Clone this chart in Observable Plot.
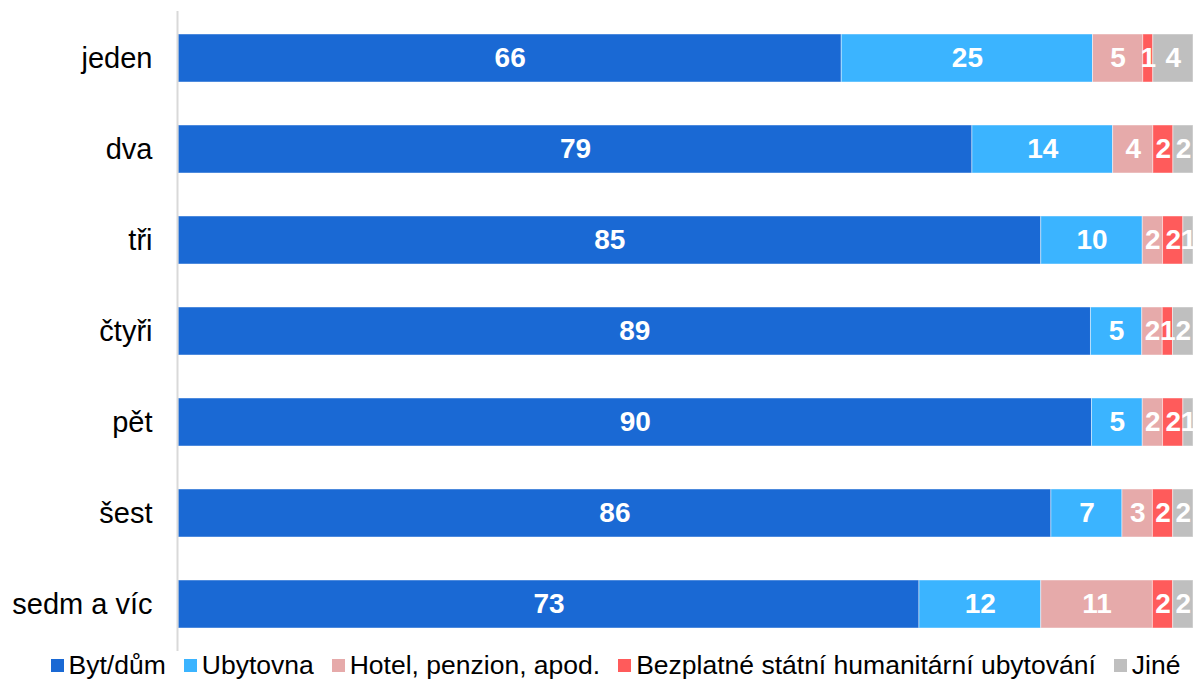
<!DOCTYPE html>
<html>
<head>
<meta charset="utf-8">
<script src="https://cdn.jsdelivr.net/npm/d3@7"></script>
<script src="https://cdn.jsdelivr.net/npm/@observablehq/plot@0.6"></script>
<style>
  html, body { margin: 0; padding: 0; background: #fff; }
  body { width: 1193px; height: 679px; overflow: hidden; font-family: "Liberation Sans", Arial, sans-serif; }
  #chart svg { display: block; }
  #legend { display: flex; justify-content: center; align-items: center; height: 27px; font-size: 26.5px; line-height: 27px; color: #000; padding-left: 38px; }
  .item { display: flex; align-items: center; margin: 0 9px; white-space: nowrap; }
  .sw { width: 13px; height: 13px; margin-right: 5px; display: inline-block; }
</style>
</head>
<body>
<div id="chart"></div>
<div id="legend"></div>
<script>
const categories = ["jeden", "dva", "tři", "čtyři", "pět", "šest", "sedm a víc"];
const series = ["Byt/dům", "Ubytovna", "Hotel, penzion, apod.", "Bezplatné státní humanitární ubytování", "Jiné"];
const colors = ["#1A69D4", "#3BB4FF", "#E6AAAA", "#FF5B5B", "#BFBFBF"];
const bytDum     = [66, 79, 85, 89, 90, 86, 73];
const ubytovna   = [25, 14, 10, 5, 5, 7, 12];
const hotel      = [5, 4, 2, 2, 2, 3, 11];
const bezplatne  = [1, 2, 2, 1, 2, 2, 2];
const jine       = [4, 2, 1, 2, 1, 2, 2];

const seriesValues = [bytDum, ubytovna, hotel, bezplatne, jine];
const data = [];
categories.forEach((c, i) => {
  series.forEach((s, j) => data.push({cat: c, series: s, value: seriesValues[j][i]}));
});

const stackOpts = {x: "value", y: "cat", z: "series", offset: "normalize", order: series};

const chart = Plot.plot({
  width: 1193,
  height: 652,
  marginLeft: 178,
  marginRight: 0,
  marginTop: 11,
  marginBottom: 1,
  style: {fontFamily: "Liberation Sans, Arial, sans-serif", background: "#fff"},
  x: {axis: null, domain: [0, 1]},
  y: {domain: categories, paddingInner: 0.47, paddingOuter: 0.235, label: null},
  color: {domain: series, range: colors},
  marks: [
    Plot.barX(data, Plot.stackX({...stackOpts, fill: "series", stroke: "#ffffff", strokeOpacity: 0.45, strokeWidth: 1})),
    Plot.textX(data, Plot.stackX({...stackOpts, text: d => d.value, fill: "white", fontSize: 28, fontWeight: "bold"})),
    Plot.ruleX([0], {stroke: "#d9d9d9", strokeWidth: 2, dx: -1}),
    Plot.axisY({tickSize: 0, tickPadding: 26, fontSize: 29, fill: "#000", label: null})
  ]
});
document.getElementById("chart").appendChild(chart);

const legend = d3.select("#legend");
series.forEach((s, j) => {
  const it = legend.append("div").attr("class", "item");
  it.append("span").attr("class", "sw").style("background", colors[j]);
  it.append("span").text(s);
});
</script>
</body>
</html>
